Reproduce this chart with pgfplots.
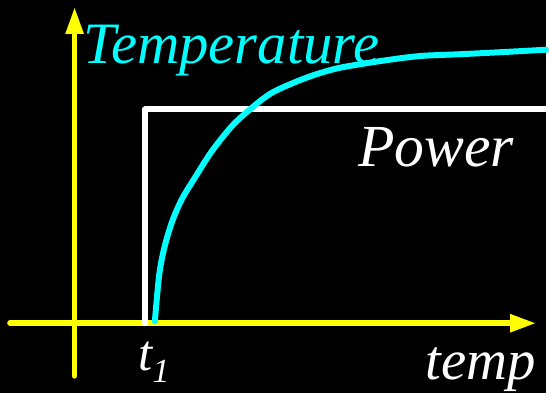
\documentclass[border=0pt]{standalone}
\usepackage{fontspec}
\setmainfont{Liberation Serif}
\usepackage{pgfplots}
\pgfplotsset{compat=1.18}
\usetikzlibrary{arrows.meta}
\definecolor{ycol}{HTML}{FFFF00}
\definecolor{ccol}{HTML}{00FFFF}
\begin{document}
\begin{tikzpicture}
\begin{axis}[
  scale only axis, width=549pt, height=395pt,
  xmin=0, xmax=549, ymin=0, ymax=395,
  axis lines=none, clip=false,
]
% background
\addplot[fill=black, draw=none] coordinates {(0,0) (549,0) (549,395) (0,395)} -- cycle;
% axes
\addplot[ycol, line width=5.5pt, line cap=round, -{Triangle[length=26pt,width=17pt]}] coordinates {(10,70) (539,70)};
\addplot[ycol, line width=5.5pt, line cap=round, -{Triangle[length=27pt,width=17pt]}] coordinates {(75,17) (75,388)};
% power step
\addplot[white, line width=6pt, line join=round, line cap=round] coordinates {(146,70) (146,285) (549,285)};
% temperature
\addplot[ccol, line width=6pt, smooth, line cap=round] coordinates {
(155.7,72) (160,118) (165,145) (173,172) (183,195) (197,218) (213,243) (233,268) (253,286.5) (273,301.5) (297,312.5) (317,320) (340,326.5) (370,331.7) (403,336.5) (427,339) (463,340.5) (507,342.7) (549,345)};
% labels
\node[anchor=base west, inner sep=0pt, text=ccol, font=\fontsize{59}{63}\selectfont\itshape] at (axis cs:84,331) {Temperature};
\node[anchor=base west, inner sep=0pt, text=white, font=\fontsize{60}{64}\selectfont\itshape] at (axis cs:360,228) {Power};
\node[anchor=base west, inner sep=0pt, text=white, font=\fontsize{51}{55}\selectfont\itshape] at (axis cs:139,22) {t\raisebox{-12pt}{\fontsize{34}{36}\selectfont 1}};
\node[anchor=base west, inner sep=0pt, text=white, font=\fontsize{57}{60}\selectfont\itshape] at (axis cs:428,13) {temp};
\end{axis}
\end{tikzpicture}
\end{document}
